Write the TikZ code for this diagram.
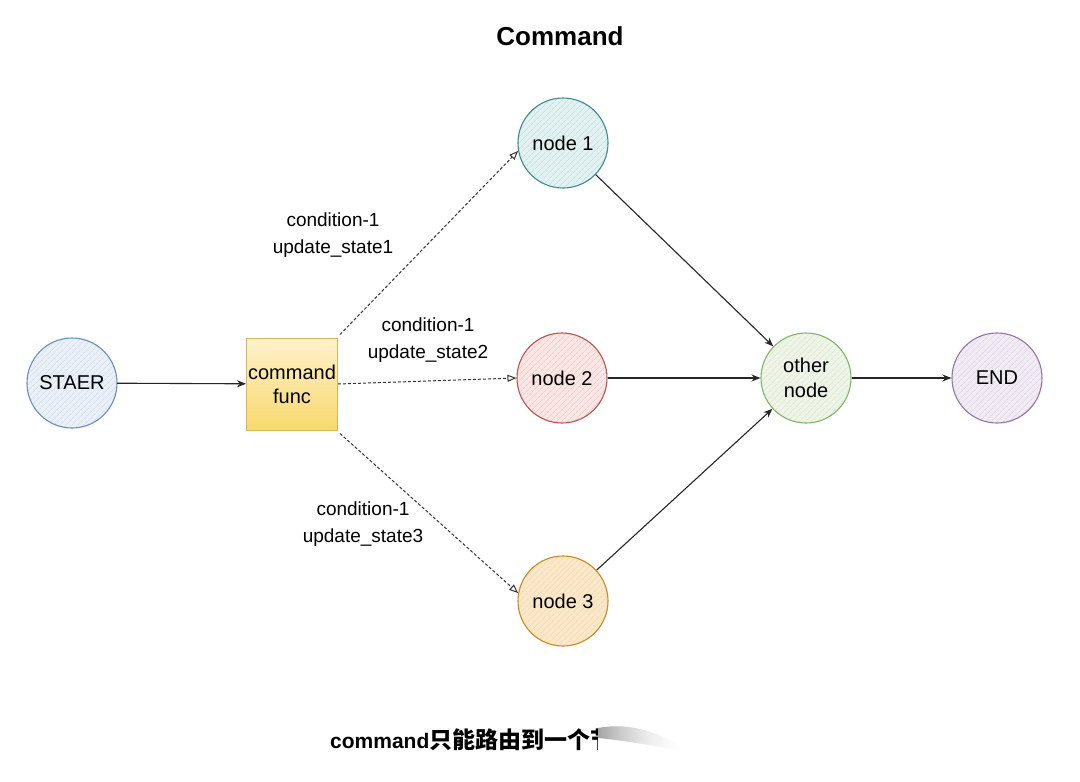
\documentclass[tikz,border=0pt]{standalone}
\usepackage{fontspec}
\setmainfont{Liberation Sans}
\newfontfamily\cjk{Noto Sans CJK SC}
\usetikzlibrary{arrows.meta,patterns.meta,fadings,shadings}
\definecolor{bluS}{HTML}{6C8EBF}\definecolor{bluF}{HTML}{EAF0F8}
\definecolor{tealS}{HTML}{3F8A8C}\definecolor{tealF}{HTML}{E2F2F2}
\definecolor{redS}{HTML}{B85450}\definecolor{redF}{HTML}{FAE6E4}
\definecolor{orgS}{HTML}{C98A1E}\definecolor{orgF}{HTML}{FBE8C8}
\definecolor{grnS}{HTML}{82B366}\definecolor{grnF}{HTML}{EEF5E8}
\definecolor{purS}{HTML}{9673A6}\definecolor{purF}{HTML}{F1EBF4}
\definecolor{yelS}{HTML}{D6B656}\definecolor{yelT}{HTML}{FFF2CC}\definecolor{yelB}{HTML}{F8D86E}
\tikzset{
  txt/.style={font=\fontsize{19}{27}\selectfont, align=center},
  sketchcirc/.style n args={2}{circle, minimum size=90pt, inner sep=0pt, draw=#1, line width=1.1pt,
     preaction={fill=#2},
     pattern={Lines[angle=45,distance=4pt,line width=0.5pt]}, pattern color=#1!35,
     font=\fontsize{20}{25}\selectfont, align=center},
  funcbox/.style={rectangle, minimum width=91pt, minimum height=92pt, inner sep=0pt, draw=yelS, line width=1pt,
     top color=yelT, bottom color=yelB, font=\fontsize{20}{24}\selectfont, align=center},
  solidarrow/.style={-{Stealth[length=9pt,width=7pt]}, line width=1.1pt, draw=black!85},
  dasharrow/.style={-{Triangle[open,length=9pt,width=7pt]}, line width=1pt, dash pattern=on 3pt off 2pt, draw=black!80},
}
\begin{document}
\begin{tikzpicture}[x=1pt,y=-1pt]
\useasboundingbox (0,0) rectangle (1080,782);
\fill[white] (0,0) rectangle (1080,782);

\node[font=\fontsize{26}{30}\selectfont\bfseries] (title) at (560,36) {Command};

\node[sketchcirc={bluS}{bluF}] (start) at (72,383) {STAER};
\node[funcbox] (func) at (292,384) {command\\func};
\node[sketchcirc={tealS}{tealF}] (n1) at (563,143) {node 1};
\node[sketchcirc={redS}{redF}] (n2) at (562,378) {node 2};
\node[sketchcirc={orgS}{orgF}] (n3) at (563,601) {node 3};
\node[sketchcirc={grnS}{grnF}] (other) at (806,378) {other\\node};
\node[sketchcirc={purS}{purF}] (endn) at (997,378) {END};

\draw[solidarrow] (start) -- (func);
\draw[dasharrow] ([shift={(2,-3)}]func.north east) -- (n1.190);
\draw[dasharrow] (func.east) -- (n2.west);
\draw[dasharrow] ([shift={(2,3)}]func.south east) -- (n3.170);
\draw[solidarrow] (n1) -- (other);
\draw[solidarrow] (n2) -- (other);
\draw[solidarrow] (n3) -- (other);
\draw[solidarrow] (other) -- (endn);

\node[txt] (l1) at (333,235) {condition-1\\update\_state1};
\node[txt] (l2) at (428,340) {condition-1\\update\_state2};
\node[txt] (l3) at (363,524) {condition-1\\update\_state3};

\node[anchor=base west, inner sep=0pt, font=\fontsize{21}{26}\selectfont\bfseries] (note) at (330,748) {command{\cjk\fontsize{23}{26}\selectfont\bfseries 只能路由到一个节}};
\fill[white] (598,720) rectangle (700,764);
\shade[left color=black!45, right color=white, path fading=east, opacity=0.8] (598,728) .. controls (630,722) and (660,732) .. (690,752) .. controls (650,745) and (620,740) .. (598,738) -- cycle;
\end{tikzpicture}
\end{document}
